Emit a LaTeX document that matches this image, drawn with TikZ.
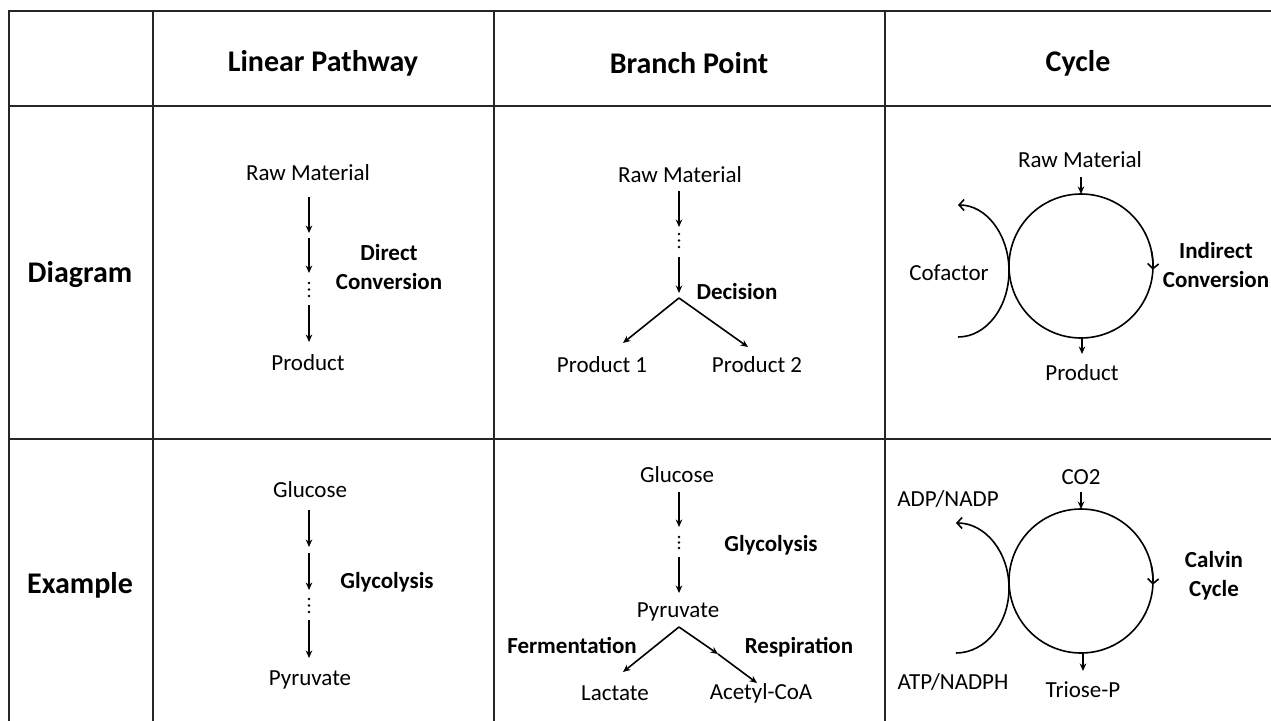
\documentclass[tikz,border=0pt]{standalone}
\usepackage{fontspec}
\setmainfont{Carlito}
\usetikzlibrary{arrows.meta}
\begin{document}
\begin{tikzpicture}[x=1pt,y=-1pt,
  lbl/.style={font=\fontsize{23}{29}\selectfont, inner sep=0pt, align=center},
  blbl/.style={font=\fontsize{23}{29}\selectfont\bfseries, inner sep=0pt, align=center},
  hdr/.style={font=\fontsize{30}{34}\selectfont\bfseries, inner sep=0pt},
  grid/.style={line width=1.8pt, draw=black!85},
  arr/.style={line width=1.6pt, -{Stealth[length=7.5pt,width=6.5pt]}},
  plain/.style={line width=1.6pt},
  barb/.style={line width=1.6pt, -{Straight Barb[length=5pt,width=11pt]}},
  dot/.style={fill=black, draw=none}
]
\useasboundingbox (0,0) rectangle (1271,720);
% table
\draw[grid] (1280,11) -- (9,11) -- (9,730);
\draw[grid] (153,11) -- (153,730);
\draw[grid] (494,11) -- (494,730);
\draw[grid] (885,11) -- (885,730);
\draw[grid] (9,106) -- (1280,106);
\draw[grid] (9,439) -- (1280,439);
% headers
\node[hdr] (h1) at (323,63) {Linear Pathway};
\node[hdr] (h2) at (689,63) {Branch Point};
\node[hdr] (h3) at (1078,63) {Cycle};
\node[hdr] (r1) at (80,275) {Diagram};
\node[hdr] (r2) at (80,585) {Example};

% ---------- Diagram / Linear ----------
\node[lbl] (la) at (308,173) {Raw Material};
\node[lbl] (lb) at (308,363) {Product};
\node[blbl] (lc) at (389,267) {Direct\\Conversion};
\coordinate (l1s) at (309,197); \coordinate (l1e) at (309,233);
\coordinate (l2s) at (309,238); \coordinate (l2e) at (309,273);
\coordinate (l3s) at (309,305); \coordinate (l3e) at (309,342);
\draw[arr] (l1s) -- (l1e);
\draw[arr] (l2s) -- (l2e);
\draw[arr] (l3s) -- (l3e);
\foreach \yy in {283,289.5,296} \fill[dot] (309,\yy) circle (1.4pt);

% ---------- Diagram / Branch ----------
\node[lbl] (ba) at (680,175) {Raw Material};
\node[blbl] (bd) at (737,292) {Decision};
\node[lbl] (bp1) at (602,365) {Product 1};
\node[lbl] (bp2) at (757,365) {Product 2};
\coordinate (b1s) at (679,191); \coordinate (b1e) at (679,227);
\coordinate (b2s) at (679,257); \coordinate (b2e) at (679,293);
\coordinate (bap) at (679,298);
\coordinate (bl) at (623,343); \coordinate (br) at (748,347);
\draw[arr] (b1s) -- (b1e);
\draw[arr] (b2s) -- (b2e);
\foreach \yy in {234,240.5,247} \fill[dot] (679,\yy) circle (1.4pt);
\draw[arr] (bap) -- (bl);
\draw[arr] (bap) -- (br);

% ---------- Diagram / Cycle ----------
\coordinate (cc) at (1081,266);
\draw[plain] (cc) circle (72);
\node[lbl] (ca) at (1080,160) {Raw Material};
\node[lbl] (cp) at (1082,373) {Product};
\node[lbl] (cf) at (949,273) {Cofactor};
\node[blbl] (ci) at (1216,265) {Indirect\\Conversion};
\coordinate (ct0) at (1081,177); \coordinate (ct1) at (1081,194);
\coordinate (cb0) at (1082,338); \coordinate (cb1) at (1082,354);
\draw[arr] (ct0) -- (ct1);
\draw[arr] (cb0) -- (cb1);
\coordinate (cm) at (1151.4,251);
\draw[barb] (cm) arc[start angle=-12, end angle=3, radius=72];
\coordinate (cfs) at (958,337);
\draw[barb] (cfs) arc[start angle=90, end angle=-90, x radius=51, y radius=66];

% ---------- Example / Linear ----------
\node[lbl] (ga) at (310,490) {Glucose};
\node[lbl] (gb) at (310,680) {Pyruvate};
\node[blbl] (gc) at (387,582) {Glycolysis};
\coordinate (g1s) at (309,510); \coordinate (g1e) at (309,547);
\coordinate (g2s) at (309,553); \coordinate (g2e) at (309,590);
\coordinate (g3s) at (309,620); \coordinate (g3e) at (309,658);
\draw[arr] (g1s) -- (g1e);
\draw[arr] (g2s) -- (g2e);
\draw[arr] (g3s) -- (g3e);
\foreach \yy in {599,605.5,612} \fill[dot] (309,\yy) circle (1.4pt);

% ---------- Example / Branch ----------
\node[lbl] (ea) at (677,475) {Glucose};
\node[blbl] (eg) at (771,545) {Glycolysis};
\node[lbl] (ep) at (678,612) {Pyruvate};
\node[blbl] (ef) at (572,645) {Fermentation};
\node[blbl] (er) at (799,647) {Respiration};
\node[lbl] (el) at (615,693) {Lactate};
\node[lbl] (eac) at (761,693) {Acetyl-CoA};
\coordinate (e1s) at (679,492); \coordinate (e1e) at (679,527);
\coordinate (e2s) at (679,557); \coordinate (e2e) at (679,593);
\foreach \yy in {537,542.5,548} \fill[dot] (679,\yy) circle (1.4pt);
\draw[arr] (e1s) -- (e1e);
\draw[arr] (e2s) -- (e2e);
\coordinate (eap) at (679,627);
\coordinate (eL) at (623,672);
\coordinate (eM) at (718,654);
\coordinate (eR) at (757,683);
\draw[arr] (eap) -- (eL);
\draw[arr] (eap) -- (eM);
\draw[arr] (eM) -- (eR);

% ---------- Example / Cycle ----------
\coordinate (kc) at (1081,581);
\draw[plain] (kc) circle (72);
\node[lbl] (kco) at (1081,477) {CO2};
\node[lbl] (ktp) at (1083,690) {Triose-P};
\node[lbl] (kad) at (948,499) {ADP/NADP};
\node[lbl] (kat) at (953,682) {ATP/NADPH};
\node[blbl] (kcv) at (1214,576) {Calvin\\Cycle};
\coordinate (kt0) at (1081,492); \coordinate (kt1) at (1081,509);
\coordinate (kb0) at (1083,653); \coordinate (kb1) at (1083,671);
\draw[arr] (kt0) -- (kt1);
\draw[arr] (kb0) -- (kb1);
\coordinate (km) at (1151.4,566);
\draw[barb] (km) arc[start angle=-12, end angle=3, radius=72];
\coordinate (kfs) at (956,653);
\draw[barb] (kfs) arc[start angle=90, end angle=-90, x radius=53, y radius=65];
\end{tikzpicture}
\end{document}
